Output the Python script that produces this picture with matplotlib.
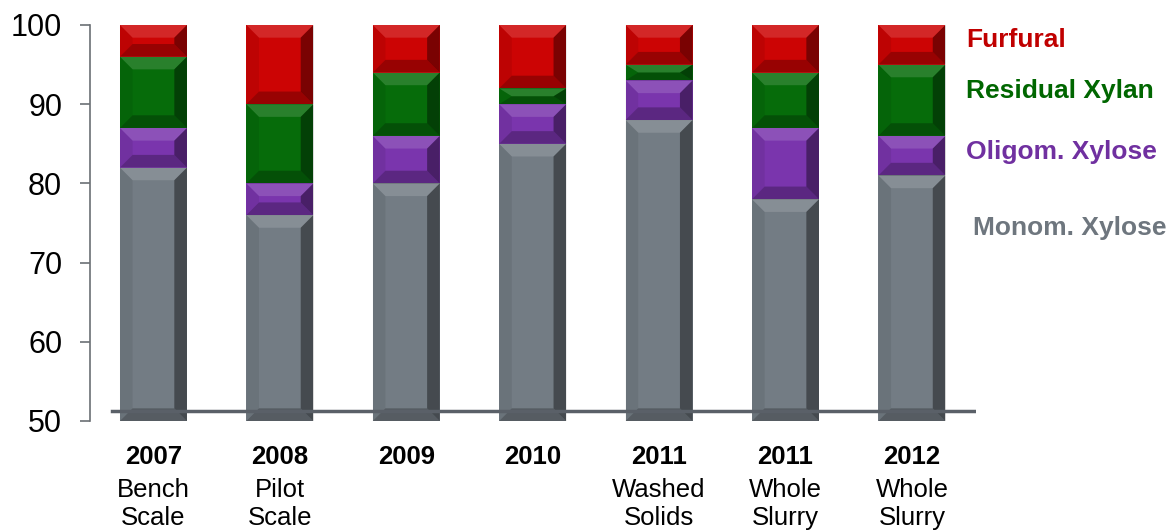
import numpy as np
import matplotlib
matplotlib.use("Agg")
import matplotlib.pyplot as plt
from matplotlib.patches import Polygon
from matplotlib.transforms import blended_transform_factory

plt.rcParams['font.family'] = ['Liberation Sans', 'DejaVu Sans']

# data
years = ["2007", "2008", "2009", "2010", "2011", "2011", "2012"]
sublabels = ["Bench\nScale", "Pilot\nScale", "", "", "Washed\nSolids", "Whole\nSlurry", "Whole\nSlurry"]
monom = [82, 76, 80, 85, 88, 78, 81]
oligom = [5, 4, 6, 5, 5, 9, 5]
xylan = [9, 10, 8, 2, 2, 7, 9]
furfural = [4, 10, 6, 8, 5, 6, 5]

series = ["Monom. Xylose", "Oligom. Xylose", "Residual Xylan", "Furfural"]
colors = ["#737c84", "#7a35ad", "#066c0a", "#cc0404"]
text_colors = ["#6e767e", "#7030a0", "#006600", "#c00000"]

fig = plt.figure(figsize=(11.71, 5.32), dpi=100)
ax = fig.add_axes([90 / 1171, 111 / 532, 886 / 1171, 396 / 532])

x = np.arange(len(years))
width = 0.53
bottom = np.zeros(len(years))
bx, byfull = 0.1, 1.6


def bevel(x0, x1, y0, y1):
    by = min(byfull, (y1 - y0) / 2)
    top = Polygon([(x0, y1), (x1, y1), (x1 - bx, y1 - by), (x0 + bx, y1 - by)],
                  closed=True, fc="white", alpha=0.14, lw=0)
    bot = Polygon([(x0, y0), (x1, y0), (x1 - bx, y0 + by), (x0 + bx, y0 + by)],
                  closed=True, fc="black", alpha=0.25, lw=0)
    left = Polygon([(x0, y0), (x0 + bx, y0 + by), (x0 + bx, y1 - by), (x0, y1)],
                   closed=True, fc="black", alpha=0.07, lw=0)
    right = Polygon([(x1, y0), (x1 - bx, y0 + by), (x1 - bx, y1 - by), (x1, y1)],
                    closed=True, fc="black", alpha=0.4, lw=0)
    for p in (top, bot, left, right):
        p.set_zorder(2.5)
        ax.add_patch(p)


for vals, col in zip([monom, oligom, xylan, furfural], colors):
    vals = np.array(vals, dtype=float)
    base = np.where(bottom == 0, 50, bottom)
    heights = np.where(bottom == 0, vals - 50, vals)
    bars = ax.bar(x, heights, width, bottom=base, color=col, edgecolor="none", zorder=2)
    for b in bars:
        bevel(b.get_x(), b.get_x() + b.get_width(), b.get_y(), b.get_y() + b.get_height())
    bottom = base + heights

# baseline across the bars
ax.axhline(51.2, xmin=22 / 886, xmax=1.0, color="#5a6068", lw=2.5, zorder=3)

ax.set_ylim(50, 100)
ax.set_xlim(-0.502, 6.507)
ax.set_yticks(range(50, 101, 10))
ax.set_xticks([])
for s in ["top", "right", "bottom"]:
    ax.spines[s].set_visible(False)
ax.spines["left"].set_color("#6b6f74")
ax.spines["left"].set_linewidth(1.2)
ax.tick_params(axis="y", length=7, width=1.2, color="#6b6f74", pad=13, labelsize=22)

# category labels
trans = blended_transform_factory(ax.transData, fig.transFigure)
for i in range(len(years)):
    ax.text(x[i], 75 / 532, years[i], transform=trans, ha="center", va="center",
            fontsize=18.5, fontweight="bold")
    if sublabels[i]:
        ax.text(x[i], 28 / 532, sublabels[i], transform=trans, ha="center", va="center",
                fontsize=18.5, linespacing=1.25)

# series labels at right
label_pos = [(973, 228), (966, 152), (966, 91), (966, 40)]
for name, col, (px, py) in zip(series, text_colors, label_pos):
    fig.text(px / 1171, 1 - py / 532, name, color=col, fontsize=19,
             fontweight="bold", ha="left", va="center")

fig.savefig("out.png", dpi=100)
